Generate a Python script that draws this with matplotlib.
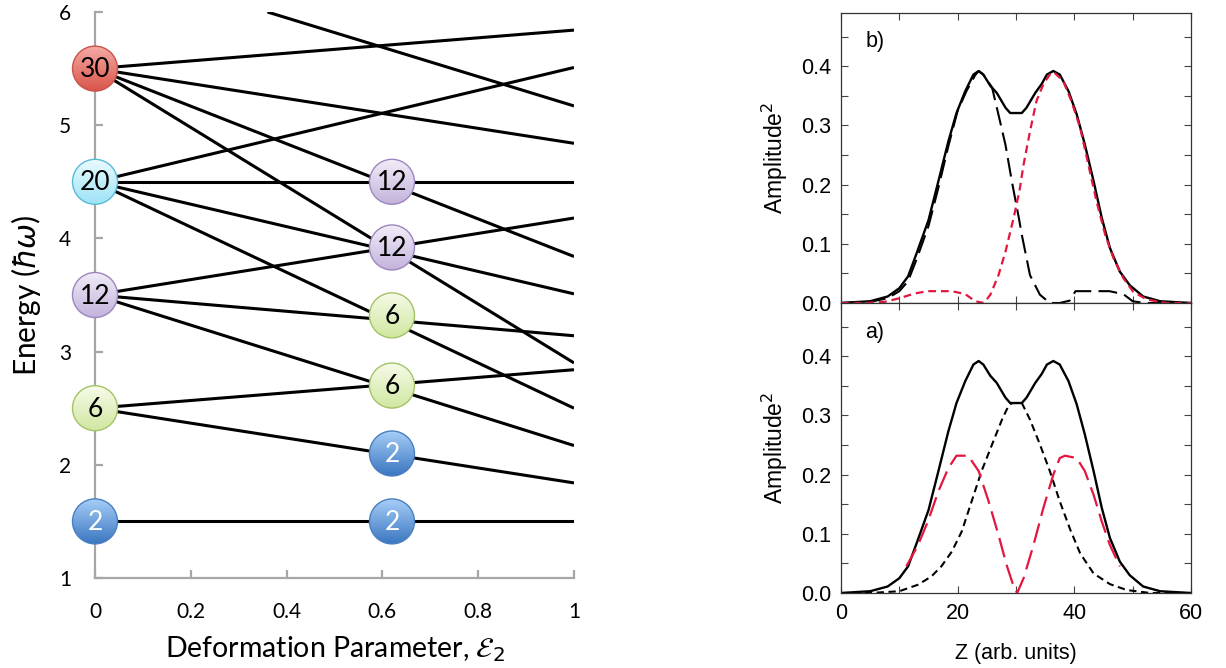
import numpy as np
import matplotlib
matplotlib.use("Agg")
import matplotlib.pyplot as plt
import matplotlib.colors as mcolors
from matplotlib.patches import Ellipse
from matplotlib.ticker import MultipleLocator, FormatStrFormatter

# ---- left panel: single-particle levels vs deformation ----
line_x0 = [0, 0, 0, 0, 0, 0, 0, 0, 0, 0, 0, 0, 0, 0, 0.36]
line_e0 = [1.5, 2.5, 2.5, 3.5, 3.5, 3.5, 4.5, 4.5, 4.5, 4.5, 5.5, 5.5, 5.5, 5.5, 6.0]
line_e1 = [1.5, 2.84, 1.84, 4.18, 3.14, 2.17, 5.51, 4.5, 3.51, 2.5, 5.84, 4.84, 3.84, 2.9, 5.17]

node_x = [0, 0, 0, 0, 0, 0.62, 0.62, 0.62, 0.62, 0.62, 0.62]
node_e = [1.5, 2.5, 3.5, 4.5, 5.5, 1.5, 2.1, 2.7, 3.32, 3.92, 4.5]
node_n = ['2', '6', '12', '20', '30', '2', '2', '6', '6', '12', '12']

left_xticks = [0, 0.2, 0.4, 0.6, 0.8, 1]
left_xlabels = ['0', '0.2', '0.4', '0.6', '0.8', '1']
left_yticks = [1, 2, 3, 4, 5, 6]

# ---- right panel: density profiles ----
z_tot = [0, 5, 8, 10, 11.5, 13, 15, 16.7, 18.4, 19.8, 21.3, 22.7, 23.6, 24.4, 25.6, 26.7,
         28.2, 29, 31, 31.8, 33.3, 34.4, 35.3, 36.4, 37.5, 39, 40.4, 41.8, 43.3, 44.7,
         46.1, 47.8, 49.5, 51.8, 54.7, 60]
amp_tot = [0, 0.003, 0.011, 0.025, 0.045, 0.085, 0.14, 0.206, 0.273, 0.321, 0.358, 0.386,
           0.392, 0.386, 0.367, 0.355, 0.33, 0.321, 0.321, 0.33, 0.355, 0.37, 0.386, 0.392,
           0.386, 0.358, 0.319, 0.268, 0.206, 0.144, 0.093, 0.053, 0.03, 0.011, 0.003, 0]

# b) long-dashed black (left-localised) and short-dashed red (right-localised)
z_b_left = [0, 5, 8, 10, 11.5, 13, 15, 16.7, 18.4, 20, 21.5, 23, 23.6, 24.4, 25.9, 27, 28.2,
            29.3, 30.5, 31, 32.4, 34.1, 35.8, 37.5, 39.2, 40.2, 46, 48.4, 50, 52, 60]
amp_b_left = [0, 0.002, 0.008, 0.02, 0.037, 0.075, 0.13, 0.195, 0.265, 0.325, 0.358, 0.385,
              0.392, 0.386, 0.364, 0.318, 0.267, 0.205, 0.143, 0.115, 0.047, 0.014, 0, 0,
              0.004, 0.02, 0.02, 0.015, 0.003, 0, 0]
z_b_right = [0, 4, 7.5, 10, 12.6, 14.9, 19, 21.3, 23, 24.5, 25.6, 27, 28.2, 29.6, 30.6, 31.3,
             32.4, 33.5, 34.7, 35.8, 36.5, 38.1, 39.5, 41, 42.4, 43.8, 45.3, 46.7, 48.4, 50.1,
             52.4, 55.8, 60]
amp_b_right = [0, 0, 0.002, 0.008, 0.016, 0.02, 0.02, 0.015, 0.003, 0, 0.014, 0.047, 0.087,
               0.144, 0.19, 0.234, 0.29, 0.341, 0.37, 0.386, 0.39, 0.375, 0.341, 0.296, 0.234,
               0.172, 0.115, 0.076, 0.042, 0.019, 0.006, 0, 0]

# a) short-dashed black (central) and long-dashed red (two bumps)
z_a_mid = [0, 5, 10, 13.2, 15.5, 17.2, 19, 20.7, 22.4, 24.1, 25.9, 27.6, 28.7, 29.3, 31, 32.4,
           34.1, 35.8, 37.5, 39.3, 41, 43.3, 46.1, 49, 53, 60]
amp_a_mid = [0, 0, 0.003, 0.014, 0.028, 0.045, 0.07, 0.104, 0.155, 0.206, 0.251, 0.293, 0.316,
             0.321, 0.321, 0.293, 0.251, 0.206, 0.155, 0.107, 0.067, 0.033, 0.015, 0.005, 0, 0]
z_a_side = [11.2, 13.2, 14.9, 16.7, 18.4, 19.8, 21.8, 23.6, 25.3, 27, 28.4, 29.6, 30.2, 31.3,
            33, 34.7, 36.4, 37.5, 38.4, 40.4, 41.8, 43.3, 44.7, 46.1, 47.8]
amp_a_side = [0.045, 0.081, 0.121, 0.172, 0.211, 0.232, 0.232, 0.206, 0.155, 0.098, 0.047,
              0.011, 0, 0.025, 0.081, 0.144, 0.2, 0.228, 0.232, 0.228, 0.206, 0.166, 0.121,
              0.081, 0.045]

# top colour, bottom colour, edge colour, text colour
node_style = {
    '2': ('#a8cff8', '#3a76c0', '#4a7fc0', 'white'),
    '6': ('#f6fbe8', '#d0e7a0', '#a3c366', 'black'),
    '12': ('#f2edf8', '#c4b3dc', '#9c86bf', 'black'),
    '20': ('#ebfbff', '#9ee3f6', '#58bbd6', 'black'),
    '30': ('#f6aba4', '#d9544a', '#c8544b', 'black'),
}

W, H = 1226, 668
fig = plt.figure(figsize=(W / 100, H / 100), dpi=100)
plt.rcParams['mathtext.fontset'] = 'dejavusans'

# ================= left panel =================
ax = fig.add_axes([95 / W, 1 - 578 / H, 479 / W, 566 / H])
for x0, e0, e1 in zip(line_x0, line_e0, line_e1):
    ax.plot([x0, 1], [e0, e1], color='black', lw=2.2, solid_capstyle='butt', zorder=2)

R = 22.5  # node radius in pixels
rx = R / 479 * 1.0
ry = R / 566 * 5.0
grad = np.linspace(0, 1, 120)[:, None]
for x, e, n in zip(node_x, node_e, node_n):
    top, bot, edge, tc = node_style[n]
    cmap = mcolors.LinearSegmentedColormap.from_list('g' + n, [top, bot])
    clip = Ellipse((x, e), 2 * rx, 2 * ry, transform=ax.transData)
    im = ax.imshow(grad, cmap=cmap, extent=[x - rx, x + rx, e - ry, e + ry],
                   aspect='auto', origin='upper', interpolation='bilinear', zorder=3)
    im.set_clip_path(clip)
    im.set_clip_box(fig.bbox)
    ax.add_patch(Ellipse((x, e), 2 * rx, 2 * ry, fill=False, ec=edge, lw=1.0,
                         zorder=4, clip_on=False))
    ax.text(x, e - 0.01, n, ha='center', va='center', fontsize=19, color=tc, zorder=5,
            family='Lato')

ax.set_xlim(0, 1)
ax.set_ylim(1, 6)
for s in ['top', 'right']:
    ax.spines[s].set_visible(False)
for s in ['left', 'bottom']:
    ax.spines[s].set_color('#a6a6a6')
    ax.spines[s].set_linewidth(1.6)
ax.set_xticks(left_xticks)
ax.set_xticklabels(left_xlabels)
ax.set_yticks(left_yticks)
ax.tick_params(direction='in', length=6, width=1.6, color='#a6a6a6', labelsize=15)
ax.tick_params(axis='x', pad=17)
ax.tick_params(axis='y', pad=17)
for lab in ax.get_xticklabels() + ax.get_yticklabels():
    lab.set_family('Lato')
ax.set_xlabel(r'Deformation Parameter, $\mathcal{E}_2$', fontsize=20.5, family='Lato', labelpad=9)
ax.set_ylabel(r'Energy ($\hbar\omega$)', fontsize=21.5, family='Lato', labelpad=12)

# ================= right panels =================
rfont = 'Liberation Sans'
ax_b = fig.add_axes([841 / W, 1 - 303 / H, 350 / W, 290 / H])
ax_a = fig.add_axes([841 / W, 1 - 593 / H, 350 / W, 290 / H], sharex=ax_b)

red = '#e3163f'
ax_b.plot(z_tot, amp_tot, color='black', lw=1.7)
ax_b.plot(z_b_left, amp_b_left, color='black', lw=1.5, dashes=(9, 3.5))
ax_b.plot(z_b_right, amp_b_right, color=red, lw=1.6, dashes=(3.5, 2.2))

ax_a.plot(z_tot, amp_tot, color='black', lw=1.7)
ax_a.plot(z_a_mid, amp_a_mid, color='black', lw=1.5, dashes=(3.5, 2.2))
ax_a.plot(z_a_side, amp_a_side, color=red, lw=1.6, dashes=(9, 3.5))

for a, lab in [(ax_b, 'b)'), (ax_a, 'a)')]:
    a.set_xlim(0, 60)
    a.set_ylim(0, 0.49)
    a.xaxis.set_major_locator(MultipleLocator(20))
    a.xaxis.set_minor_locator(MultipleLocator(10))
    a.yaxis.set_major_locator(MultipleLocator(0.1))
    a.yaxis.set_minor_locator(MultipleLocator(0.05))
    a.yaxis.set_major_formatter(FormatStrFormatter('%.1f'))
    a.tick_params(which='both', direction='in', top=True, right=True, length=5,
                  width=0.8, color='#444444', labelsize=15.5, pad=7)
    for s in a.spines.values():
        s.set_color('#333333')
        s.set_linewidth(0.9)
    for t in a.get_xticklabels() + a.get_yticklabels():
        t.set_family(rfont)
    a.set_ylabel('Amplitude' + r'$^{2}$', fontsize=16.5, family=rfont, labelpad=8)
    a.text(0.07, 0.9, lab, transform=a.transAxes, fontsize=15.5, family=rfont,
           ha='left', va='center')

ax_b.tick_params(axis='x', labelbottom=False)
ax_a.set_xlabel('Z (arb. units)', fontsize=15.5, family=rfont, labelpad=14)

fig.savefig('out.png', dpi=100)
